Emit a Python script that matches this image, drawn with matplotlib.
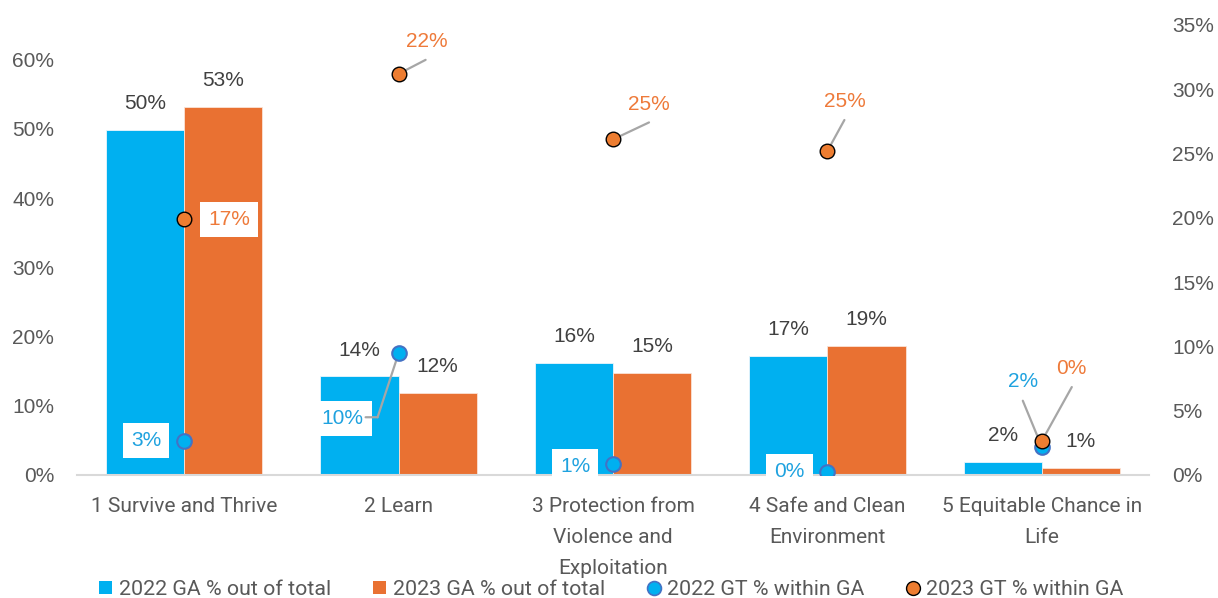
import matplotlib
matplotlib.use("Agg")
import matplotlib.pyplot as plt
from matplotlib.lines import Line2D
from matplotlib.patches import Patch
from matplotlib.transforms import offset_copy
from matplotlib.ticker import FuncFormatter
import numpy as np

# ---------------- data ----------------
categories = ["1 Survive and Thrive", "2 Learn",
              "3 Protection from\nViolence and\nExploitation",
              "4 Safe and Clean\nEnvironment",
              "5 Equitable Chance in\nLife"]
ga_2022 = [49.9, 14.3, 16.2, 17.2, 1.9]
ga_2023 = [53.2, 11.9, 14.8, 18.7, 1.05]
ga_2022_labels = ["50%", "14%", "16%", "17%", "2%"]
ga_2023_labels = ["53%", "12%", "15%", "19%", "1%"]
gt_2022 = [2.67, 9.47, 0.83, 0.26, 2.2]
gt_2023 = [19.9, 31.2, 26.1, 25.2, 2.64]
gt_2022_labels = ["3%", "10%", "1%", "0%", "2%"]
gt_2023_labels = ["17%", "22%", "25%", "25%", "0%"]
series_names = ["2022 GA % out of total", "2023 GA % out of total",
                "2022 GT % within GA", "2023 GT % within GA"]
left_ticks = [0, 10, 20, 30, 40, 50, 60]
right_ticks = [0, 5, 10, 15, 20, 25, 30, 35]

# ---------------- styles ----------------
BLUE = "#00B0F0"
ORANGE = "#E97132"
MK_ORANGE = "#ED7D31"
BLUE_TXT = "#1FA2DF"
ORANGE_TXT = "#EE7A3A"
DARK = "#404040"
TICK = "#595959"
LEAD = "#A6A6A6"
NUM_FONT = ["Liberation Sans", "DejaVu Sans"]
CAT_FONT = ["Roboto", "DejaVu Sans"]

# label offsets in pixels (x, y-up) relative to marker
gt22_off = [(-38, 0), (-56, -65), (-38, -2), (-38, 0), (-19, 65)]
gt22_box = [True, True, True, True, False]
gt23_off = [(45, 0), (28, 32), (36, 35), (17, 50), (30, 73)]
gt23_box = [True, False, False, False, False]
# leader polylines (pixel offsets relative to marker)
lead22 = {1: [(-33, -64), (-21, -64), (0, 0)], 4: [(-19, 46), (0, 0)]}
lead23 = {1: [(27, 14), (0, 0)], 2: [(36, 17), (0, 0)],
          3: [(17, 31), (0, 0)], 4: [(30, 54), (0, 0)]}

fig = plt.figure(figsize=(12.18, 5.98), dpi=100)
ax = fig.add_axes([77 / 1218, 123 / 598, (1149 - 77) / 1218, 450 / 598])
ax2 = ax.twinx()

x = np.arange(len(categories))
w = 0.365
ax.bar(x - w / 2, ga_2022, w, color=BLUE, edgecolor="#EAF6FC", linewidth=0.6, zorder=2)
ax.bar(x + w / 2, ga_2023, w, color=ORANGE, edgecolor="#FBE3D6", linewidth=0.6, zorder=2)

ax.set_xlim(-0.5, len(categories) - 0.5)
ax.set_ylim(0, 65)
ax2.set_ylim(0, 35)
ax.set_yticks(left_ticks)
ax2.set_yticks(right_ticks)
pct = FuncFormatter(lambda v, p: f"{v:.0f}%")
ax.yaxis.set_major_formatter(pct)
ax2.yaxis.set_major_formatter(pct)

for a in (ax, ax2):
    for s in a.spines.values():
        s.set_visible(False)
    a.tick_params(axis="y", length=0, labelsize=15, labelcolor=TICK, pad=16.5)
ax.spines["bottom"].set_visible(True)
ax.spines["bottom"].set_color("#D9D9D9")
ax.spines["bottom"].set_linewidth(1.5)
for lab in ax.get_yticklabels() + ax2.get_yticklabels():
    lab.set_family(NUM_FONT)

ax.set_xticks(x)
ax.set_xticklabels(categories, fontsize=15, color=TICK, family=CAT_FONT, linespacing=1.78)
ax.tick_params(axis="x", length=0, pad=16)

# bar labels
for xi, v, lab in zip(x - w / 2, ga_2022, ga_2022_labels):
    ax.annotate(lab, (xi, v), xytext=(0, 26), textcoords="offset pixels",
                ha="center", va="center", fontsize=15, color=DARK, family=NUM_FONT)
for xi, v, lab in zip(x + w / 2, ga_2023, ga_2023_labels):
    ax.annotate(lab, (xi, v), xytext=(0, 26), textcoords="offset pixels",
                ha="center", va="center", fontsize=15, color=DARK, family=NUM_FONT)

# leader lines
def leaders(axis, xs, ys, table):
    for i, pts in table.items():
        for (dx1, dy1), (dx2, dy2) in zip(pts[:-1], pts[1:]):
            tr = offset_copy(axis.transData, fig=fig, x=dx2, y=dy2, units="dots")
            axis.annotate("", xy=(xs[i], ys[i]), xycoords=tr,
                          xytext=(dx1 - dx2, dy1 - dy2), textcoords="offset pixels",
                          arrowprops=dict(arrowstyle="-", color=LEAD, lw=1.6,
                                          shrinkA=0, shrinkB=0), zorder=4)

leaders(ax2, x, gt_2022, lead22)
leaders(ax2, x, gt_2023, lead23)

ax2.plot(x, gt_2022, "o", ms=10.5, mfc=BLUE, mec="#4472C4", mew=1.5, ls="none", zorder=5)
ax2.plot(x, gt_2023, "o", ms=10.5, mfc=MK_ORANGE, mec="black", mew=1.0, ls="none", zorder=5)

box = dict(boxstyle="square,pad=0.38", fc="white", ec="none")
for i, (v, lab, off, bx) in enumerate(zip(gt_2022, gt_2022_labels, gt22_off, gt22_box)):
    ax2.annotate(lab, (x[i], v), xytext=off, textcoords="offset pixels",
                 ha="center", va="center", fontsize=15, color=BLUE_TXT,
                 family=NUM_FONT, bbox=box if bx else None, zorder=3)
for i, (v, lab, off, bx) in enumerate(zip(gt_2023, gt_2023_labels, gt23_off, gt23_box)):
    ax2.annotate(lab, (x[i], v), xytext=off, textcoords="offset pixels",
                 ha="center", va="center", fontsize=15, color=ORANGE_TXT,
                 family=NUM_FONT, bbox=box if bx else None, zorder=3)

handles = [Patch(facecolor=BLUE, edgecolor="none"),
           Patch(facecolor=ORANGE, edgecolor="none"),
           Line2D([], [], marker="o", ls="none", ms=10, mfc=BLUE, mec="#4472C4", mew=1.2),
           Line2D([], [], marker="o", ls="none", ms=10, mfc=MK_ORANGE, mec="black", mew=1.0)]
leg = fig.legend(handles, series_names, loc="center", bbox_to_anchor=(0.502, 0.014),
                 ncol=4, frameon=False, handlelength=0.6, handleheight=0.6,
                 handletextpad=0.3, columnspacing=2.0,
                 prop=dict(family=CAT_FONT, size=15.4))
for t in leg.get_texts():
    t.set_color(TICK)

fig.savefig("out.png", dpi=100)
